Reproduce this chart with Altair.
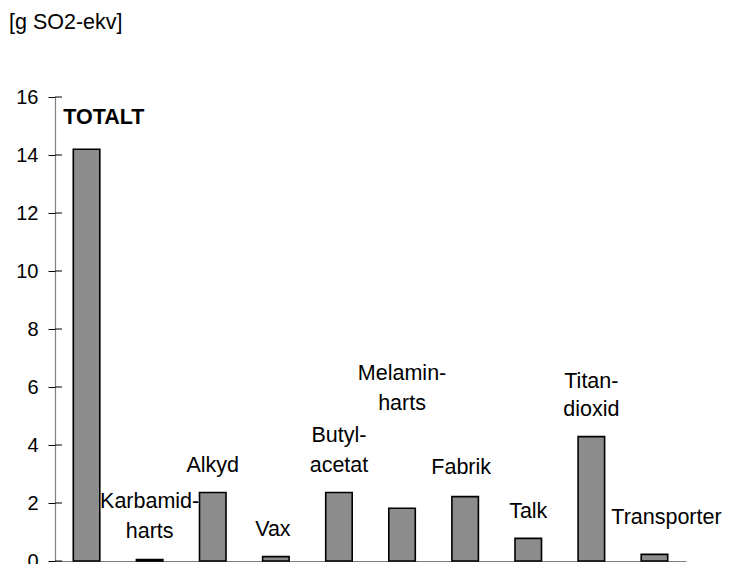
import altair as alt
import pandas as pd

categories = ["TOTALT", "Karbamidharts", "Alkyd", "Vax", "Butylacetat",
              "Melaminharts", "Fabrik", "Talk", "Titandioxid", "Transporter"]
values = [14.2, 0.05, 2.36, 0.15, 2.36, 1.82, 2.22, 0.78, 4.29, 0.23]

label_text = ["TOTALT", "Karbamid-", "harts", "Alkyd", "Vax", "Butyl-", "acetat",
              "Melamin-", "harts", "Fabrik", "Talk", "Titan-", "dioxid", "Transporter"]
label_cat = ["TOTALT", "Karbamidharts", "Karbamidharts", "Alkyd", "Vax", "Butylacetat",
             "Butylacetat", "Melaminharts", "Melaminharts", "Fabrik", "Talk",
             "Titandioxid", "Titandioxid", "Transporter"]
label_y = [15.27, 2.04, 1.0, 3.27, 1.06, 4.3, 3.27, 6.46, 5.43, 3.2, 1.69, 6.17, 5.2, 1.47]
label_dx = [-10, 0, 0, 0, -3, 0, 0, 0, 0, -4, 0, 0, 0, 12]

y_ticks = [0, 2, 4, 6, 8, 10, 12, 14, 16]
unit_title = "[g SO2-ekv]"

FONT = "Liberation Sans"
FS = 21.5
AXFS = 20

bars_df = pd.DataFrame({"cat": categories, "val": values})
labels_df = pd.DataFrame({"txt": label_text, "cat": label_cat, "ly": label_y, "dx": label_dx})
ticks_df = pd.DataFrame({"t": y_ticks})
title_df = pd.DataFrame({"t": [unit_title]})

xscale = alt.Scale(domain=categories, paddingInner=0.58, paddingOuter=0.29)
yscale = alt.Scale(domain=[0, 16], nice=False)

bars = alt.Chart(bars_df).mark_bar(color="#8c8c8c", stroke="black", strokeWidth=1.6).encode(
    x=alt.X("cat:N", scale=xscale, sort=categories,
            axis=alt.Axis(labels=False, ticks=False, title=None, domainColor="#808080",
                          domainWidth=1.2, grid=False)),
    y=alt.Y("val:Q", scale=yscale,
            axis=alt.Axis(values=y_ticks, tickSize=7, tickColor="black", tickWidth=1,
                          domainColor="#808080", domainWidth=1.2, labelFont=FONT,
                          labelFontSize=AXFS, labelColor="black", labelPadding=10,
                          grid=False, title=None)),
)

labels = []
for i in range(len(label_text)):
    row = labels_df.iloc[[i]]
    bold = label_text[i] == "TOTALT"
    labels.append(
        alt.Chart(row).mark_text(
            font=FONT, fontSize=FS, color="black",
            fontWeight="bold" if bold else "normal",
            align="left" if bold else "center", baseline="middle",
            dx=int(label_dx[i]),
        ).encode(
            x=alt.X("cat:N", scale=xscale, sort=categories, bandPosition=0.0 if bold else 0.5),
            y=alt.Y("ly:Q", scale=yscale),
            text="txt:N",
        )
    )

inner_ticks = alt.Chart(ticks_df).mark_rule(color="black", strokeWidth=1).encode(
    y=alt.Y("t:Q", scale=yscale),
    x=alt.value(0),
    x2=alt.value(7),
)

title = alt.Chart(title_df).mark_text(
    font=FONT, fontSize=FS, color="black", align="left", baseline="middle"
).encode(text="t:N", x=alt.value(-46), y=alt.value(-74))

chart = alt.layer(bars, inner_ticks, title, *labels).properties(
    width=631, height=464,
    autosize=alt.AutoSizeParams(type="none"),
    padding={"left": 47, "top": 89, "right": 37, "bottom": 3},
).configure_view(stroke=None)

chart.save("out.html", embed_options={"renderer": "svg", "actions": False})
